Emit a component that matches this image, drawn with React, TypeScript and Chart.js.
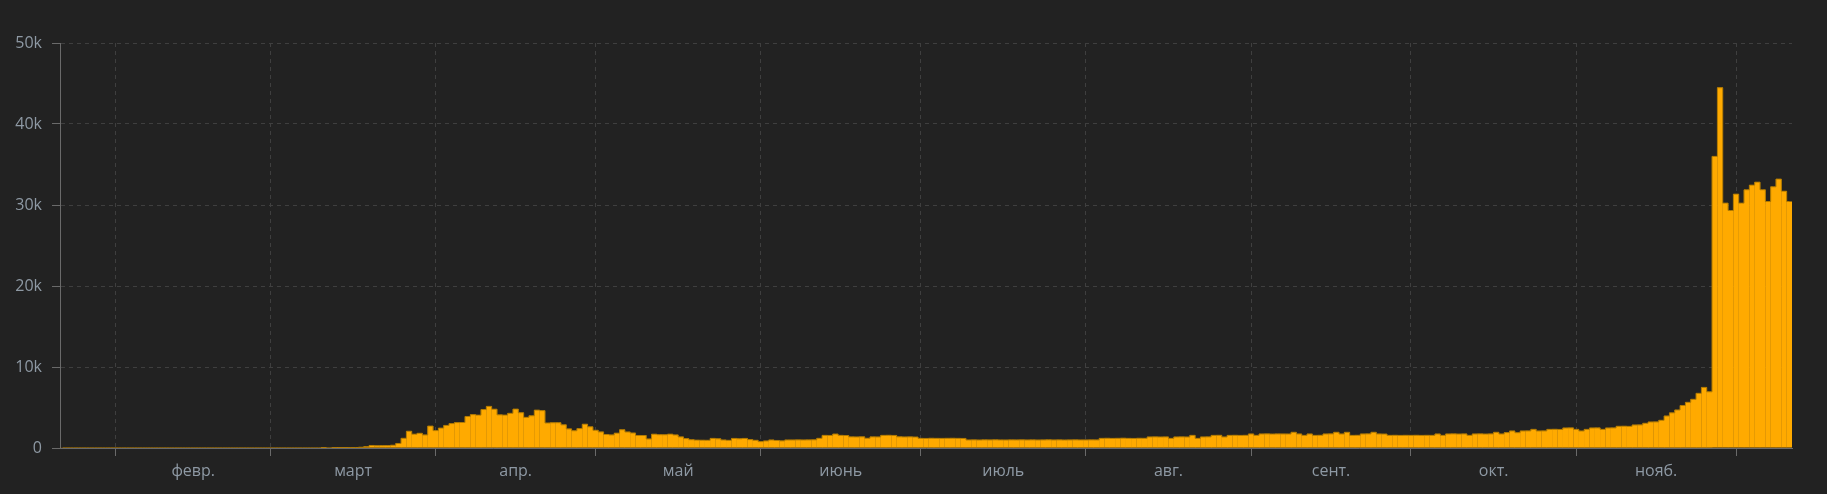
import { useEffect, useRef } from 'react';
import { Chart, registerables } from 'chart.js';

Chart.register(...registerables);

// Day-of-year index (Jan 1, 2020 = 0) of the first bar: Jan 22, 2020
const firstDay = 21;

// Daily new cases, per month (2020)
const casesJan = [0, 0, 0, 0, 0, 0, 0, 0, 0, 0]; // Jan 22-31
const casesFeb = [0, 0, 0, 0, 0, 0, 0, 0, 0, 0, 0, 0, 0, 0, 0, 0, 0, 0, 0, 0, 0, 0, 0, 0, 0, 0, 0, 0, 0];
const casesMar = [0, 0, 0, 0, 0, 0, 0, 0, 0, 0, 1, 0, 4, 1, 12, 29, 51, 93, 168, 311, 277, 289, 293, 343, 561, 1196, 2069, 1704, 1815, 1610, 2704];
const casesApr = [2148, 2456, 2786, 3013, 3135, 3148, 3892, 4117, 4056, 4747, 5138, 4789, 4093, 4062, 4281, 4801, 4353, 3783, 3977, 4674, 4611, 3083, 3116, 3122, 2861, 2357, 2131, 2392, 2936, 2615];
const casesMay = [2188, 1983, 1670, 1614, 1832, 2253, 1977, 1848, 1546, 1542, 1114, 1704, 1641, 1635, 1708, 1610, 1368, 1158, 1022, 972, 961, 952, 1186, 1141, 987, 948, 1182, 1141, 1182, 1035, 950];
const casesJun = [786, 867, 988, 930, 878, 987, 989, 1000, 990, 1000, 1010, 1195, 1560, 1550, 1720, 1560, 1540, 1370, 1360, 1380, 1200, 1370, 1360, 1560, 1570, 1550, 1380, 1360, 1370, 1350];
const casesJul = [1190, 1180, 1200, 1190, 1185, 1195, 1200, 1190, 1180, 990, 1000, 985, 1005, 995, 1010, 990, 985, 1000, 995, 1005, 990, 1000, 985, 995, 1010, 990, 1000, 985, 995, 1005, 990];
const casesAug = [990, 1000, 995, 1190, 1200, 1185, 1195, 1210, 1190, 1180, 1200, 1195, 1360, 1370, 1355, 1365, 1190, 1360, 1370, 1355, 1560, 1190, 1360, 1370, 1560, 1570, 1360, 1560, 1570, 1555, 1565];
const casesSep = [1730, 1560, 1730, 1740, 1720, 1735, 1730, 1725, 1940, 1730, 1560, 1730, 1560, 1570, 1730, 1740, 1940, 1730, 1940, 1560, 1570, 1730, 1740, 1940, 1730, 1720, 1560, 1570, 1555, 1565];
const casesOct = [1560, 1570, 1555, 1565, 1560, 1730, 1560, 1730, 1740, 1720, 1735, 1560, 1730, 1740, 1720, 1735, 1940, 1730, 1900, 2100, 1890, 2100, 2110, 2300, 2100, 2110, 2300, 2310, 2290, 2470, 2480];
const casesNov = [2300, 2100, 2300, 2470, 2480, 2300, 2470, 2480, 2680, 2690, 2670, 2840, 2850, 3050, 3210, 3220, 3420, 3950, 4340, 4690, 5250, 5640, 6010, 6750, 7480, 6940, 36000, 44480, 30230, 29320];
const casesDec = [31340, 30230, 31880, 32450, 32820, 31880, 30430, 32250, 33200, 31700, 30430]; // Dec 1-11

// Month boundaries (day-of-year index of the 1st) and month labels
const monthStartDays = [31, 60, 91, 121, 152, 182, 213, 244, 274, 305, 335];
const monthLabels = ['февр.', 'март', 'апр.', 'май', 'июнь', 'июль', 'авг.', 'сент.', 'окт.', 'нояб.'];
const yTickValues = [0, 10000, 20000, 30000, 40000, 50000];

const BG = '#222222';
const GRID = '#3f3f3f';
const TICK = '#6a6a6a';
const LABEL = '#8e99a4';
const BAR = '#FFAA00';
const BAR_EDGE = '#B47C00';
const FONT = { family: '"Open Sans", "DejaVu Sans", sans-serif', size: 16 };

export default function App() {
  const ref = useRef<HTMLCanvasElement | null>(null);

  useEffect(() => {
    document.body.style.margin = '0';
    document.body.style.background = BG;
    const canvas = ref.current;
    if (!canvas) return;

    const dailyCases = [
      ...casesJan, ...casesFeb, ...casesMar, ...casesApr, ...casesMay, ...casesJun,
      ...casesJul, ...casesAug, ...casesSep, ...casesOct, ...casesNov, ...casesDec,
    ];
    const points = dailyCases.map((y, i) => ({ x: firstDay + i, y }));
    const midTicks = monthLabels.map((_, i) => (monthStartDays[i] + monthStartDays[i + 1]) / 2);
    const labelByValue = new Map<number, string>(midTicks.map((v, i) => [v, monthLabels[i]]));
    const startSet = new Set(monthStartDays);
    const allTicks = [...monthStartDays, ...midTicks].sort((a, b) => a - b);

    const chart = new Chart(canvas, {
      type: 'bar',
      data: {
        datasets: [
          {
            type: 'line',
            data: points as any,
            borderColor: BAR_EDGE,
            borderWidth: 1,
            stepped: 'middle',
            pointRadius: 0,
            fill: false,
            order: 0,
          } as any,
          {
            type: 'bar',
            data: points as any,
            backgroundColor: BAR,
            borderWidth: 0,
            barPercentage: 1,
            categoryPercentage: 1,
            inflateAmount: 0.12,
            order: 1,
          } as any,
        ],
      },
      options: {
        animation: false,
        responsive: false,
        layout: { padding: { top: 43, right: 35, bottom: 0, left: 0 } },
        plugins: { legend: { display: false }, tooltip: { enabled: false } },
        scales: {
          x: {
            type: 'linear',
            offset: false,
            min: firstDay - 0.5,
            max: firstDay + dailyCases.length - 0.5,
            bounds: 'data',
            afterBuildTicks: (s: any) => {
              s.ticks = allTicks.map((v) => ({ value: v }));
            },
            afterFit: (s: any) => {
              s.height = 46;
            },
            grid: {
              offset: false,
              color: (c: any) => (c.tick && startSet.has(c.tick.value) ? GRID : 'rgba(0,0,0,0)'),
              tickColor: (c: any) => (c.tick && startSet.has(c.tick.value) ? TICK : 'rgba(0,0,0,0)'),
              tickLength: 8,
              lineWidth: 1,
            },
            border: { color: TICK, width: 1, dash: [4, 4] },
            ticks: {
              autoSkip: false,
              maxRotation: 0,
              minRotation: 0,
              padding: 6,
              color: LABEL,
              font: FONT,
              callback: (v: any) => labelByValue.get(Number(v)) ?? '',
            },
          },
          y: {
            min: 0,
            max: 50000,
            afterBuildTicks: (s: any) => {
              s.ticks = yTickValues.map((v) => ({ value: v }));
            },
            afterFit: (s: any) => {
              s.width = 60;
            },
            grid: { color: GRID, tickColor: TICK, tickLength: 8, lineWidth: 1 },
            border: { color: TICK, width: 1, dash: [4, 4] },
            ticks: {
              padding: 10,
              color: LABEL,
              font: FONT,
              callback: (v: any) => (Number(v) === 0 ? '0' : Number(v) / 1000 + 'k'),
            },
          },
        },
      },
    });
    return () => chart.destroy();
  }, []);

  return (
    <div style={{ width: 1827, height: 494, background: BG }}>
      <canvas ref={ref} width={1827} height={494} style={{ display: 'block', width: 1827, height: 494 }} />
    </div>
  );
}
